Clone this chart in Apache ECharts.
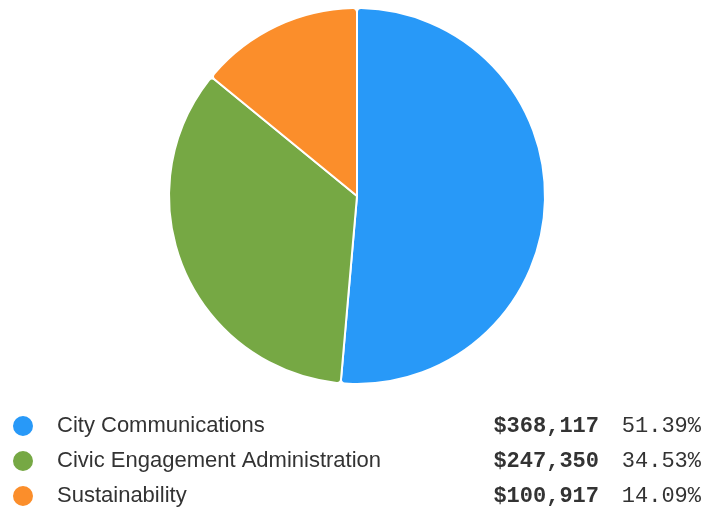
<!DOCTYPE html>
<html>
<head>
<meta charset="utf-8">
<script src="https://cdn.jsdelivr.net/npm/echarts@6/dist/echarts.min.js"></script>
<style>
  html, body { margin: 0; padding: 0; background: #fff; }
  #chart { width: 704px; height: 512px; }
</style>
</head>
<body>
<div id="chart"></div>
<script>
// Budget by program
const programs = ['City Communications', 'Civic Engagement Administration', 'Sustainability'];
const amounts = [368117, 247350, 100917];
const colors = ['#2899F8', '#76A844', '#FB8E2B'];

const total = amounts.reduce((a, b) => a + b, 0);
const fmtMoney = v => '$' + v.toLocaleString('en-US');
const fmtPct = v => (v / total * 100).toFixed(2) + '%';

const chart = echarts.init(document.getElementById('chart'), null, { renderer: 'canvas' });

chart.setOption({
  animation: false,
  color: colors,
  legend: {
    orient: 'vertical',
    left: 11,
    top: 414,
    padding: 0,
    itemWidth: 22,
    itemHeight: 22,
    itemGap: 11,
    icon: 'circle',
    selectedMode: false,
    data: programs,
    formatter: name => {
      const i = programs.indexOf(name);
      return '{n|' + name + '}{v|' + fmtMoney(amounts[i]) + '}{p|' + fmtPct(amounts[i]) + '}';
    },
    textStyle: {
      rich: {
        n: { width: 440, padding: [0, 0, 0, 18], fontFamily: 'Liberation Sans, Arial, sans-serif', fontSize: 22, color: '#333333', lineHeight: 24 },
        v: { width: 102, align: 'right', fontFamily: 'Liberation Mono, monospace', fontWeight: 'bold', fontSize: 22, color: '#333333', lineHeight: 24 },
        p: { width: 102, align: 'right', fontFamily: 'Liberation Mono, monospace', fontSize: 22, color: '#333333', lineHeight: 24 }
      }
    }
  },
  series: [{
    type: 'pie',
    center: [357, 196],
    radius: 188,
    startAngle: 90,
    clockwise: true,
    label: { show: false },
    labelLine: { show: false },
    emphasis: { disabled: true },
    itemStyle: { borderColor: '#ffffff', borderWidth: 2, borderRadius: 4 },
    data: programs.map((name, i) => ({ name, value: amounts[i] }))
  }]
});
</script>
</body>
</html>
